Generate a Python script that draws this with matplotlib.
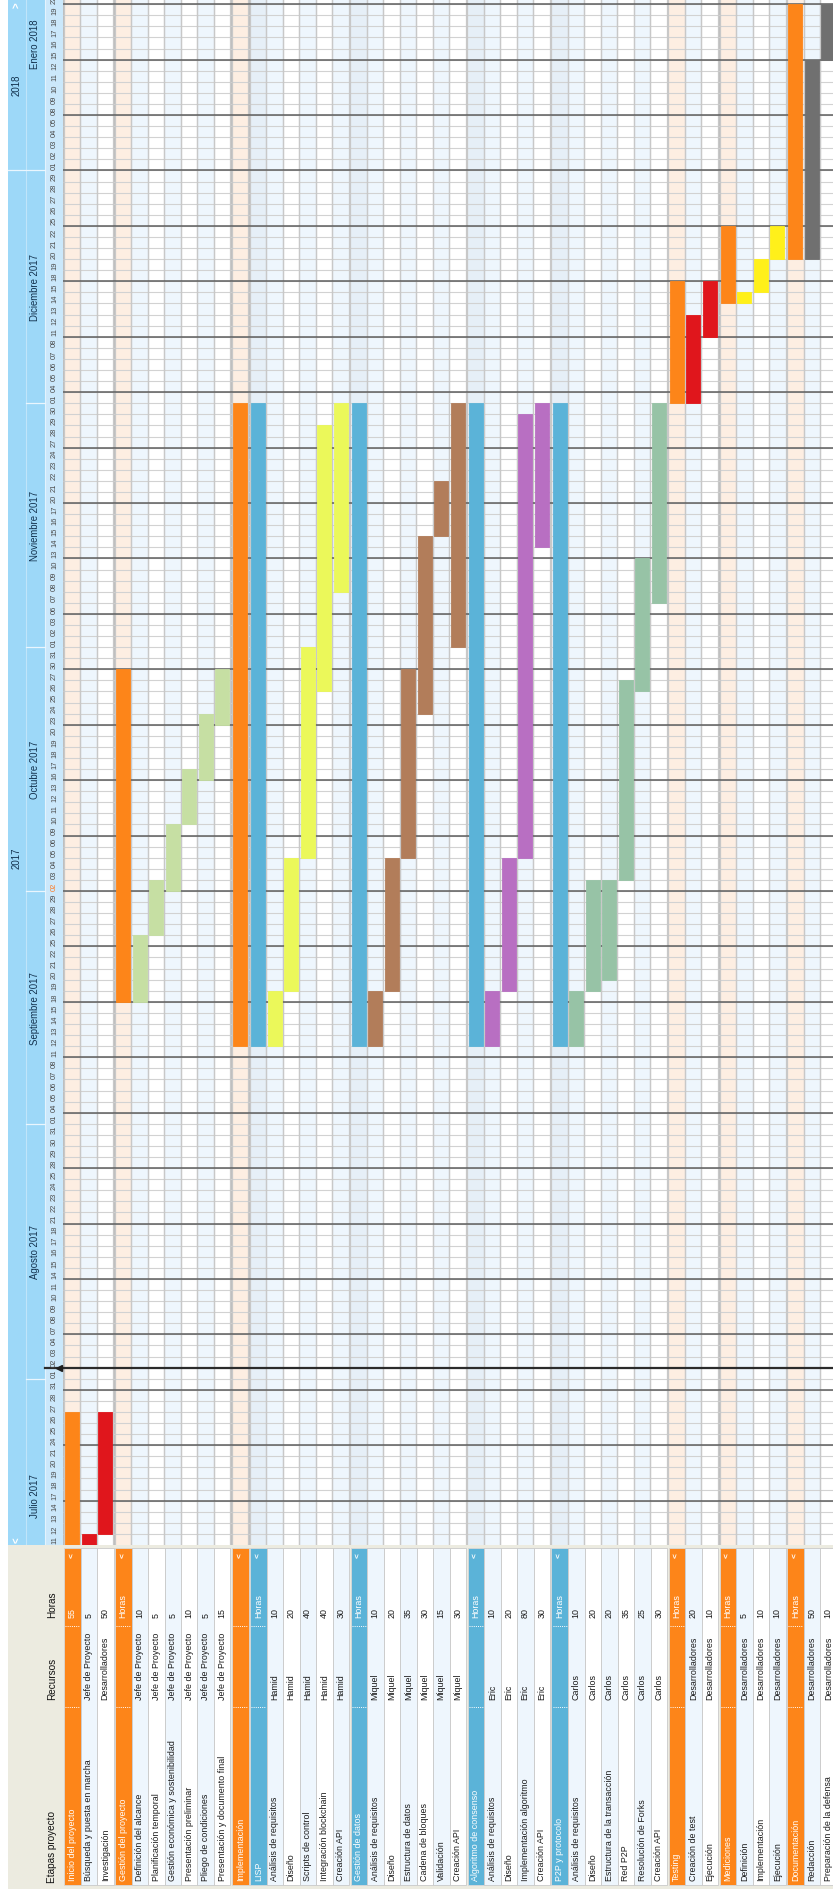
import numpy as np
import pandas as pd
import matplotlib
matplotlib.use('Agg')
import matplotlib.pyplot as plt

plt.rcParams['font.family'] = ['Liberation Sans', 'DejaVu Sans']

# ---------------- datos ----------------
group_names = ['Inicio del proyecto', 'Gestión del proyecto', 'Implementación', 'LISP',
               'Gestión de datos', 'Algoritmo de consenso', 'P2P y protocolo', 'Testing',
               'Mediciones', 'Documentación']
group_kind = ['o', 'o', 'o', 'b', 'b', 'b', 'b', 'o', 'o', 'o']
group_hours = ['55', 'Horas', '', 'Horas', 'Horas', 'Horas', 'Horas', 'Horas', 'Horas', 'Horas']
group_start = ['2017-07-11', '2017-09-18', '2017-09-12', '2017-09-12', '2017-09-12',
               '2017-09-12', '2017-09-12', '2017-12-01', '2017-12-14', '2017-12-20']
group_end = ['2017-07-26', '2017-10-27', '2017-11-30', '2017-11-30', '2017-11-30',
             '2017-11-30', '2017-11-30', '2017-12-15', '2017-12-22', '2018-01-19']
group_task_color = ['#E0161C', '#C6DFA3', None, '#EBF85A', '#B27D5A', '#B86FC2',
                    '#97C3A6', '#E0161C', '#FFF01A', '#707070']

task_group = [0, 0,
              1, 1, 1, 1, 1, 1,
              3, 3, 3, 3, 3,
              4, 4, 4, 4, 4, 4,
              5, 5, 5, 5,
              6, 6, 6, 6, 6, 6,
              7, 7,
              8, 8, 8,
              9, 9]
task_names = ['Búsqueda y puesta en marcha', 'Investigación',
              'Definición del alcance', 'Planificación temporal',
              'Gestión económica y sostenibilidad', 'Presentación preliminar',
              'Pliego de condiciones', 'Presentación y documento final',
              'Análisis de requisitos', 'Diseño', 'Scripts de control',
              'Integración blockchain', 'Creación API',
              'Análisis de requisitos', 'Diseño', 'Estructura de datos',
              'Cadena de bloques', 'Validación', 'Creación API',
              'Análisis de requisitos', 'Diseño', 'Implementación algoritmo', 'Creación API',
              'Análisis de requisitos', 'Diseño', 'Estructura de la transacción',
              'Red P2P', 'Resolución de Forks', 'Creación API',
              'Creación de test', 'Ejecución',
              'Definición', 'Implementación', 'Ejecución',
              'Redacción', 'Preparación de la defensa']
task_res = (['Jefe de Proyecto', 'Desarrolladores'] + ['Jefe de Proyecto'] * 6 +
            ['Hamid'] * 5 + ['Miquel'] * 6 + ['Eric'] * 4 + ['Carlos'] * 6 +
            ['Desarrolladores'] * 7)
task_hours = [5, 50,
              10, 5, 5, 10, 5, 15,
              10, 20, 40, 40, 30,
              10, 20, 35, 30, 15, 30,
              10, 20, 80, 30,
              10, 20, 20, 35, 25, 30,
              20, 10,
              5, 10, 10,
              50, 10]
task_start = ['2017-07-11', '2017-07-12',
              '2017-09-18', '2017-09-26', '2017-10-02', '2017-10-10', '2017-10-16', '2017-10-23',
              '2017-09-12', '2017-09-19', '2017-10-05', '2017-10-26', '2017-11-08',
              '2017-09-12', '2017-09-19', '2017-10-05', '2017-10-24', '2017-11-15', '2017-11-01',
              '2017-09-12', '2017-09-19', '2017-10-05', '2017-11-14',
              '2017-09-12', '2017-09-19', '2017-09-20', '2017-10-03', '2017-10-26', '2017-11-07',
              '2017-12-01', '2017-12-11',
              '2017-12-14', '2017-12-15', '2017-12-20',
              '2017-12-20', '2018-01-15']
task_end = ['2017-07-11', '2017-07-26',
            '2017-09-25', '2017-10-02', '2017-10-09', '2017-10-16', '2017-10-23', '2017-10-27',
            '2017-09-18', '2017-10-04', '2017-10-31', '2017-11-28', '2017-11-30',
            '2017-09-18', '2017-10-04', '2017-10-27', '2017-11-14', '2017-11-21', '2017-11-30',
            '2017-09-18', '2017-10-04', '2017-11-29', '2017-11-30',
            '2017-09-18', '2017-10-02', '2017-10-02', '2017-10-26', '2017-11-10', '2017-11-30',
            '2017-12-12', '2017-12-15',
            '2017-12-14', '2017-12-19', '2017-12-22',
            '2018-01-12', '2018-01-19']

month_names = ['Julio', 'Agosto', 'Septiembre', 'Octubre', 'Noviembre', 'Diciembre', 'Enero']
today = '2017-10-02'
marker_day = '2017-08-02'

ORANGE, BLUE = '#FD8519', '#5BB3D8'

# ---------------- geometria ----------------
W, H, DPI = 833, 1890, 100
ROW, DAY, X0 = 16.5, 11.085, 64
GAP = 1.5 / ROW
TOPC = 1546

days = pd.bdate_range('2017-07-11', '2018-01-22')
def di(s):
    return days.get_loc(pd.Timestamp(s))

fig = plt.figure(figsize=(W / DPI, H / DPI), dpi=DPI)
def box(x0, y0, x1, y1):
    return [x0 / W, 1 - y1 / H, (x1 - x0) / W, (y1 - y0) / H]

rows = []
pos = 0.0
for g in range(len(group_names)):
    rows.append(dict(pos=pos, g=g, t=None, alt=0))
    pos += 1
    k = 0
    for t in range(len(task_names)):
        if task_group[t] == g:
            rows.append(dict(pos=pos, g=g, t=t, alt=k % 2))
            pos += 1
            k += 1
    pos += GAP

def row_bg(r):
    if r['t'] is None:
        return '#FDEEE2' if group_kind[r['g']] == 'o' else '#E6EFF7'
    return '#EEF6FD' if r['alt'] == 0 else '#FFFFFF'

# ---------------- diagrama ----------------
ax = fig.add_axes(box(63, 0, W, TOPC))
xa, xb = (63 - X0) / ROW, (W - X0) / ROW
ymax = TOPC / DAY
ax.set_xlim(xa, xb)
ax.set_ylim(0, ymax)
ax.axis('off')

ax.bar((xa + xb) / 2, ymax, width=xb - xa, bottom=0, color='#BDBDBD', lw=0, zorder=0)
for r in rows:
    ax.bar(r['pos'] + 0.5, ymax, width=1, bottom=0, color=row_bg(r), lw=0, zorder=1)
ax.hlines(np.arange(1, len(days)), xa, xb, color='#D2D2D2', lw=0.8, zorder=2)
ax.vlines([r['pos'] for r in rows] + [r['pos'] + 1 for r in rows], 0, ymax,
          color='#C8C8C8', lw=0.9, zorder=2)
mondays = [i for i, d in enumerate(days) if d.weekday() == 0]
ax.hlines(mondays, xa, xb, color='#5E5E5E', lw=1.1, zorder=3)

for r in rows:
    g = r['g']
    if r['t'] is None:
        s, e = di(group_start[g]), di(group_end[g])
        col = ORANGE if group_kind[g] == 'o' else BLUE
    else:
        s, e = di(task_start[r['t']]), di(task_end[r['t']])
        col = group_task_color[g]
    ax.bar(r['pos'] + 0.5, e - s + 1, width=0.86, bottom=s, color=col,
           edgecolor=col, lw=0.6, zorder=4)

m = di(marker_day)
ax.axhline(m, color='#2B2B2B', lw=1.6, zorder=6)

# ---------------- cabecera de fechas ----------------
hx = fig.add_axes(box(0, 0, 63, TOPC))
hx.set_xlim(0, 63)
hx.set_ylim(0, ymax)
hx.axis('off')
hx.axvspan(8, 45, color='#9DD8F8', lw=0)
hx.axvspan(45, 63, color='#CBE8FB', lw=0)
hx.axvline(26, color='#C0E5FA', lw=0.8)
hx.axvline(45, color='#E4F3FD', lw=0.8)

for i, d in enumerate(days):
    c = '#FF7A22' if d == pd.Timestamp(today) else '#4A4A4A'
    hx.text(54.5, i + 0.5, f'{d.day:02d}', rotation=90, ha='center', va='center',
            fontsize=5.4, color=c)

months = pd.period_range('2017-07', '2018-01', freq='M')
for k, mp in enumerate(months):
    mdays = pd.bdate_range(mp.start_time, mp.end_time)
    a = np.searchsorted(days, mdays[0])
    if mdays[0] < days[0]:
        a = -np.sum(mdays < days[0])
    b = a + len(mdays)
    if k > 0:
        hx.plot([26 if mp.month != 1 else 8, 45], [a, a], color='#EAF6FE', lw=0.9)
    hx.text(35.5, (a + b) / 2, f'{month_names[k]} {mp.year}', rotation=90,
            ha='center', va='center', fontsize=6.9, color='#13324E')
jan = di('2018-01-01')
hx.text(17, jan / 2, '2017', rotation=90, ha='center', va='center', fontsize=6.9, color='#13324E')
hx.text(17, (jan + ymax) / 2, '2018', rotation=90, ha='center', va='center', fontsize=6.9,
        color='#13324E')
hx.text(17, 0.55, '<', rotation=90, ha='center', va='center', fontsize=7, color='white',
        fontweight='bold')
hx.text(17, ymax - 0.45, '>', rotation=90, ha='center', va='center', fontsize=7, color='white',
        fontweight='bold')
hx.plot([45, 63], [m, m], color='#2B2B2B', lw=1.6)
hx.plot(59.5, m, marker='<', ms=4, color='#1E1E1E')

# ---------------- tabla ----------------
tx = fig.add_axes(box(0, TOPC, W, H))
tx.set_xlim((0 - X0) / ROW, (W - X0) / ROW)
tx.set_ylim(H, TOPC)
tx.axis('off')
xl = (8 - X0) / ROW
tx.bar(((W - X0) / ROW + xl) / 2, H - TOPC, width=(W - X0) / ROW - xl, bottom=TOPC,
       color='#ECEBE0', lw=0)

hx_c = (52 - X0) / ROW
tx.text(hx_c, 1883, 'Etapas proyecto', rotation=90, ha='center', va='bottom', fontsize=7.2,
        color='#111111')
tx.text(hx_c, 1700, 'Recursos', rotation=90, ha='center', va='bottom', fontsize=7.2,
        color='#111111')
tx.text(hx_c, 1618, 'Horas', rotation=90, ha='center', va='bottom', fontsize=7.2,
        color='#111111')

for r in rows:
    g, t, p = r['g'], r['t'], r['pos']
    c = p + 0.5
    if t is None:
        fc = ORANGE if group_kind[g] == 'o' else BLUE
        tx.bar(c, 1886 - 1549, width=1, bottom=1549, color=fc, edgecolor='#D8D8D8', lw=0.6)
        tx.text(c, 1881, group_names[g], rotation=90, ha='center', va='bottom', fontsize=6.4,
                color='white')
        if group_hours[g]:
            tx.text(c, 1618, group_hours[g], rotation=90, ha='center', va='bottom',
                    fontsize=6.4, color='white')
        tx.text(c, 1556, '<', rotation=90, ha='center', va='center', fontsize=6,
                color='white', fontweight='bold')
        for yy in (1627, 1708):
            tx.plot([p + 0.08, p + 0.92], [yy, yy], color='white', lw=0.7, ls=(0, (1, 1.2)))
    else:
        tx.bar(c, 1886 - 1549, width=1, bottom=1549, color=row_bg(r), edgecolor='#C9C9C9',
               lw=0.6)
        tx.text(c, 1881, task_names[t], rotation=90, ha='center', va='bottom', fontsize=6.4,
                color='#1A1A1A')
        tx.text(c, 1700, task_res[t], rotation=90, ha='center', va='bottom', fontsize=6.4,
                color='#1A1A1A')
        tx.text(c, 1618, str(task_hours[t]), rotation=90, ha='center', va='bottom',
                fontsize=6.4, color='#1A1A1A')

fig.savefig('out.png', dpi=DPI)
